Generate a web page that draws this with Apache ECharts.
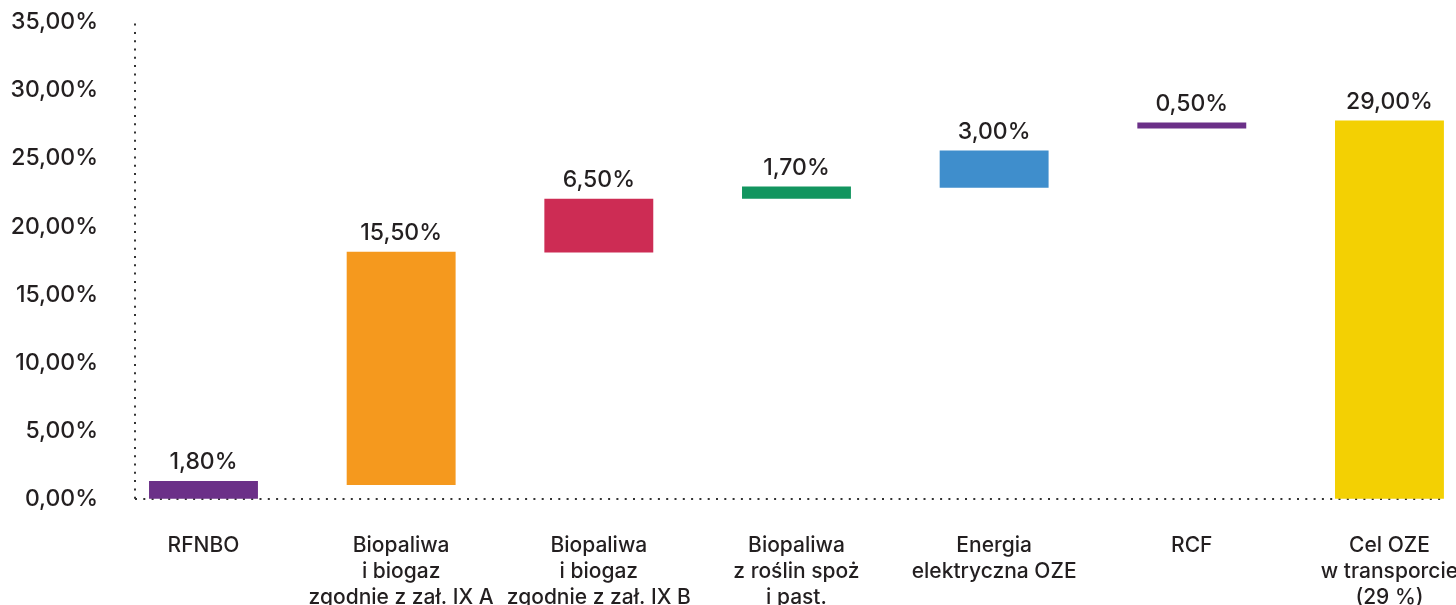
<!DOCTYPE html>
<html><head><meta charset="utf-8">
<script src="https://cdn.jsdelivr.net/npm/echarts@6/dist/echarts.min.js"></script>
<style>html,body{margin:0;padding:0;background:#fff}#c{width:1456px;height:605px}</style>
</head><body><div id="c"></div>
<script>
// Categories (x axis)
const categories = [
  'RFNBO',
  'Biopaliwa\ni biogaz\nzgodnie z zał. IX A',
  'Biopaliwa\ni biogaz\nzgodnie z zał. IX B',
  'Biopaliwa\nz roślin spoż\ni past.',
  'Energia\nelektryczna OZE',
  'RCF',
  'Cel OZE\nw transporcie\n(29 %)'
];
// Printed shares (bar labels), %
const shares = [1.8, 15.5, 6.5, 1.7, 3.0, 0.5, 29.0];
// Bar extents as drawn in the picture, % on the y axis
const barBase = [0, 1.0, 18.1, 22.05, 22.85, 27.2, 0];
const barTop  = [1.3, 18.15, 22.05, 22.95, 25.6, 27.65, 27.8];
const colors = ['#6b3088', '#f5991e', '#cd2c54', '#12955f', '#3f8ecc', '#6b3088', '#f3d003'];
// Y axis
const yMin = 0, yMax = 35, yStep = 5;

const fmtPct = v => v.toFixed(2).replace('.', ',') + '%';
const FONT = 'Inter, "Noto Sans", sans-serif';
const TXT = '#231f20';
const dotted = { color: '#333', width: 2, type: [2, 6.3], cap: 'butt' };

const chart = echarts.init(document.getElementById('c'), null, { renderer: 'canvas' });
const data = categories.map((c, i) => [i, barBase[i], barTop[i]]);

chart.setOption({
  animation: false,
  backgroundColor: '#fff',
  grid: { left: 135, right: 11, top: 22.5, bottom: 106.3, containLabel: false, outerBoundsMode: 'none' },
  xAxis: {
    type: 'value',
    min: -0.3465,
    max: 6.281,
    axisLine: { show: true, onZero: false, lineStyle: dotted },
    axisTick: { show: false },
    splitLine: { show: false },
    axisLabel: {
      customValues: categories.map((c, i) => i),
      formatter: v => categories[Math.round(v)] || '',
      color: TXT,
      fontFamily: FONT,
      fontWeight: 500,
      fontSize: 21,
      lineHeight: 26,
      margin: 34,
      align: 'center'
    }
  },
  yAxis: {
    type: 'value',
    min: yMin, max: yMax, interval: yStep,
    axisLine: { show: true, onZero: false, lineStyle: dotted },
    axisTick: { show: false },
    splitLine: { show: false },
    axisLabel: {
      formatter: v => fmtPct(v),
      color: TXT,
      fontFamily: FONT,
      fontWeight: 500,
      fontSize: 23,
      margin: 37
    }
  },
  series: [{
    type: 'custom',
    data: data,
    encode: { x: 0, y: [1, 2] },
    renderItem: (params, api) => {
      const i = api.value(0);
      const pb = api.coord([i, api.value(1)]);
      const pt = api.coord([i, api.value(2)]);
      const w = api.size([1, 0])[0] * 0.551;
      return {
        type: 'group',
        children: [{
          type: 'rect',
          shape: { x: pb[0] - w / 2, y: pt[1], width: w, height: pb[1] - pt[1] },
          style: { fill: colors[params.dataIndex] }
        }, {
          type: 'text',
          style: {
            text: fmtPct(shares[params.dataIndex]),
            x: pb[0], y: pt[1] - 7,
            align: 'center', verticalAlign: 'bottom',
            font: '500 23px ' + FONT,
            fill: TXT
          }
        }]
      };
    }
  }]
});
</script></body></html>
